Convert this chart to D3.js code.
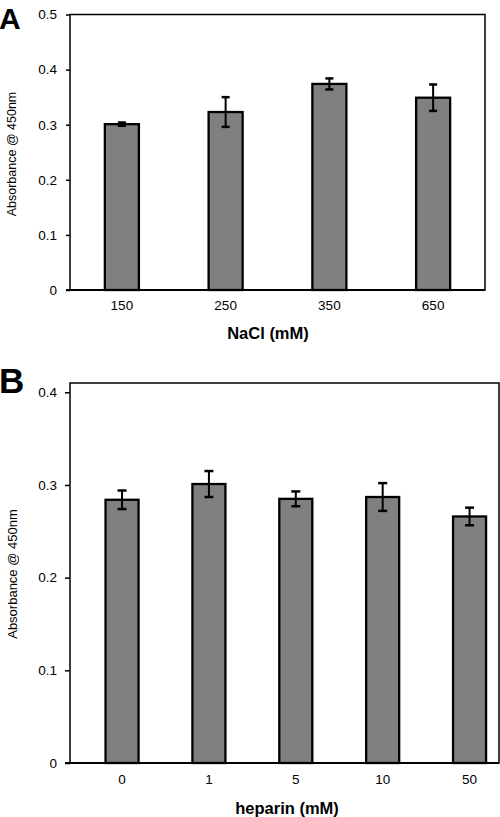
<!DOCTYPE html>
<html>
<head>
<meta charset="utf-8">
<script src="https://cdn.jsdelivr.net/npm/d3@7/dist/d3.min.js"></script>
<style>
  html, body { margin: 0; padding: 0; background: #fff; }
  svg { display: block; }
  text { font-family: "Liberation Sans", Arial, sans-serif; fill: #000; }
</style>
</head>
<body>
<svg id="chart" width="500" height="817"></svg>
<script>
// Panel A data
const catsA = ["150", "250", "350", "650"];
const valsA = [0.301, 0.323, 0.374, 0.349];
const errsA = [0.003, 0.027, 0.010, 0.024];
const ticksA = [0, 0.1, 0.2, 0.3, 0.4, 0.5];

// Panel B data
const catsB = ["0", "1", "5", "10", "50"];
const valsB = [0.284, 0.301, 0.285, 0.287, 0.266];
const errsB = [0.010, 0.014, 0.008, 0.015, 0.0095];
const ticksB = [0, 0.1, 0.2, 0.3, 0.4];

const svg = d3.select("#chart");

function fmt(v) { return v === 0 ? "0" : d3.format(".1f")(v); }

function panel(cfg) {
  const g = svg.append("g");
  const x = d3.scaleBand().domain(cfg.cats).range(cfg.xRange)
    .paddingInner(cfg.pi).paddingOuter(cfg.po);
  const y = d3.scaleLinear().domain(cfg.yDomain).range([cfg.bottom, cfg.top]);

  // frame
  g.append("rect")
    .attr("x", cfg.left).attr("y", cfg.top)
    .attr("width", cfg.right - cfg.left).attr("height", cfg.bottom - cfg.top)
    .attr("fill", "none").attr("stroke", "#000").attr("stroke-width", 1.5);

  // y axis
  const ya = g.append("g").attr("transform", `translate(${cfg.left},0)`)
    .call(d3.axisLeft(y).tickValues(cfg.ticks).tickFormat(fmt).tickSize(cfg.tickSize).tickPadding(cfg.tickPad));
  ya.select(".domain").remove();
  ya.selectAll("line").attr("stroke", "#000").attr("stroke-width", 1.5);
  ya.selectAll("text").style("font-size", cfg.tickFont + "px")
    .style("font-family", '"Liberation Sans", Arial, sans-serif').attr("fill", "#000");

  // x axis labels
  const xa = g.append("g").attr("transform", `translate(0,${cfg.bottom})`)
    .call(d3.axisBottom(x).tickSize(0).tickPadding(cfg.xPad));
  xa.select(".domain").remove();
  xa.selectAll("text").style("font-size", cfg.tickFont + "px")
    .style("font-family", '"Liberation Sans", Arial, sans-serif').attr("fill", "#000");

  // bars
  g.selectAll("rect.bar").data(cfg.vals).enter().append("rect")
    .attr("class", "bar")
    .attr("x", (d, i) => x(cfg.cats[i]))
    .attr("width", x.bandwidth())
    .attr("y", d => y(d))
    .attr("height", d => y(0) - y(d))
    .attr("fill", "#808080").attr("stroke", "#000").attr("stroke-width", 2.3);

  // error bars
  const eb = g.selectAll("g.err").data(cfg.vals).enter().append("g").attr("class", "err");
  eb.append("line")
    .attr("x1", (d, i) => x(cfg.cats[i]) + x.bandwidth() / 2)
    .attr("x2", (d, i) => x(cfg.cats[i]) + x.bandwidth() / 2)
    .attr("y1", (d, i) => y(d + cfg.errs[i]))
    .attr("y2", (d, i) => y(d - cfg.errs[i]))
    .attr("stroke", "#000").attr("stroke-width", 2);
  [1, -1].forEach(s => {
    eb.append("line")
      .attr("x1", (d, i) => x(cfg.cats[i]) + x.bandwidth() / 2 - cfg.cap)
      .attr("x2", (d, i) => x(cfg.cats[i]) + x.bandwidth() / 2 + cfg.cap)
      .attr("y1", (d, i) => y(d + s * cfg.errs[i]))
      .attr("y2", (d, i) => y(d + s * cfg.errs[i]))
      .attr("stroke", "#000").attr("stroke-width", 2.5);
  });

  // baseline
  g.append("line").attr("x1", cfg.left - cfg.tickSize).attr("x2", cfg.right)
    .attr("y1", y(0)).attr("y2", y(0)).attr("stroke", "#000").attr("stroke-width", 1.8);

  // y title
  g.append("text")
    .attr("transform", `translate(${cfg.yTitleX},${cfg.yTitleY}) rotate(-90)`)
    .attr("text-anchor", "middle").attr("dominant-baseline", "central")
    .style("font-size", cfg.yTitleFont + "px")
    .text("Absorbance @ 450nm");

  // x title
  g.append("text")
    .attr("x", cfg.xTitleX).attr("y", cfg.xTitleY)
    .attr("text-anchor", "middle")
    .style("font-size", cfg.xTitleFont + "px").style("font-weight", "bold")
    .text(cfg.xTitle);

  // panel letter
  g.append("text")
    .attr("x", cfg.letterX).attr("y", cfg.letterY)
    .style("font-size", cfg.letterFont + "px").style("font-weight", "bold")
    .text(cfg.letter);
}

panel({
  cats: catsA, vals: valsA, errs: errsA, ticks: ticksA,
  left: 70, right: 485, top: 14.5, bottom: 290,
  xRange: [70, 485], pi: 0.672, po: 0.336,
  yDomain: [0, 0.5], tickSize: 4, tickPad: 9, tickFont: 13.5, xPad: 10,
  cap: 4,
  yTitleX: 12, yTitleY: 154, yTitleFont: 12.5,
  xTitle: "NaCl (mM)", xTitleX: 268, xTitleY: 339, xTitleFont: 16.5,
  letter: "A", letterX: -1, letterY: 29, letterFont: 30
});

panel({
  cats: catsB, vals: valsB, errs: errsB, ticks: ticksB,
  left: 70, right: 499, top: 383, bottom: 763,
  xRange: [78.6, 513], pi: 0.62, po: 0.31,
  yDomain: [0, 0.41], tickSize: 5, tickPad: 8, tickFont: 13.5, xPad: 11,
  cap: 4.5,
  yTitleX: 12, yTitleY: 574, yTitleFont: 13,
  xTitle: "heparin (mM)", xTitleX: 287, xTitleY: 814, xTitleFont: 16.5,
  letter: "B", letterX: -1, letterY: 393, letterFont: 35
});
</script>
</body>
</html>
